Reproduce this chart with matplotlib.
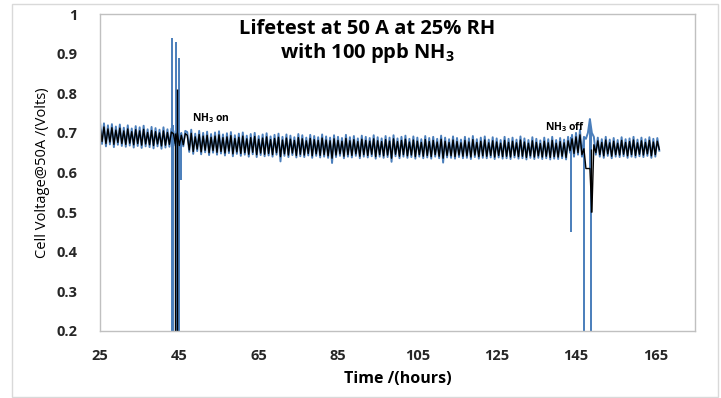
"""Lifetest cell voltage trace with NH3 exposure window."""

import numpy as np
import matplotlib
matplotlib.use("Agg")
import matplotlib.pyplot as plt
from matplotlib.patches import Rectangle

plt.rcParams["font.family"] = ["Open Sans", "DejaVu Sans"]
plt.rcParams["mathtext.fontset"] = "custom"
plt.rcParams["mathtext.rm"] = "Open Sans:bold"
plt.rcParams["mathtext.default"] = "rm"

# cell voltage in mV, sampled every 0.5 h starting at 25 h
T0 = 25.0
STEP = 0.5
blue_mv = [
    728, 672, 724, 666, 719, 671, 722, 664, 716, 670, 721, 667, 713, 665, 719, 668, 711, 663, 717, 667,
    714, 662, 718, 666, 709, 664, 715, 661, 712, 666, 708, 660, 714, 663, 709, 665, 711,
    705, 668, 708, 664, 700, 666, 705,
    702, 652, 708, 647, 698, 654, 705, 646, 700, 651, 703, 644, 697, 650, 701, 645, 704, 648, 696, 643,
    699, 649, 702, 641, 694, 647, 698, 642, 701, 645, 693, 640, 697, 646, 700, 639, 692, 644, 696, 641,
    699, 643, 691, 640, 695, 645, 698, 628, 690, 642, 696, 639, 693, 644, 689, 638, 697, 641, 694, 639,
    688, 643, 695, 637, 692, 642, 689, 638, 696, 640, 691, 637, 688, 624, 694, 639, 690, 642, 687, 636,
    695, 640, 689, 638, 692, 642, 686, 636, 693, 640, 690, 638, 687, 641, 694, 635, 689, 640, 686, 637,
    692, 639, 688, 627, 694, 641, 686, 636, 690, 640, 693, 637, 685, 639, 691, 635, 688, 640, 684, 636,
    692, 638, 687, 635, 690, 640, 685, 636, 693, 625, 688, 638, 684, 637, 691, 635, 687, 639, 683, 636,
    690, 637, 686, 634, 692, 639, 684, 635, 688, 637, 691, 636, 683, 638, 689, 634, 686, 638, 682, 635,
    690, 636, 685, 634, 688, 638, 683, 635, 691, 636, 686, 633, 682, 637, 689, 634, 685, 637, 681, 634,
    688, 636, 684, 633, 690, 635, 682, 634, 687, 636, 683, 633,
    690, 650, 695, 640, 700, 645, 708, 640, 690, 685, 700, 735, 700, 690, 645,
    688, 640, 684, 637, 690, 642, 683, 636, 687, 640, 682, 639, 689, 641, 684, 637,
    686, 640, 690, 638, 683, 641, 688, 639, 684, 642, 689, 637, 685, 640, 687, 655,
]
black_mv = [
    718, 678, 715, 673, 710, 677, 713, 671, 707, 676, 712, 673, 705, 671, 710, 674, 703, 670, 708, 673,
    705, 669, 709, 672, 701, 670, 706, 668, 703, 672, 700, 667, 705, 669, 701, 671, 702,
    698, 672, 700, 668, 694, 670, 698,
    694, 657, 699, 653, 690, 659, 696, 652, 692, 656, 694, 650, 689, 655, 692, 651, 695, 653, 688, 649,
    690, 654, 693, 647, 686, 652, 689, 648, 692, 650, 685, 646, 688, 651, 691, 645, 684, 649, 687, 646,
    690, 648, 683, 645, 686, 650, 689, 640, 682, 647, 687, 644, 684, 649, 681, 643, 688, 646, 685, 644,
    680, 648, 686, 642, 683, 647, 681, 643, 687, 645, 682, 642, 680, 636, 685, 644, 681, 647, 679, 641,
    686, 645, 680, 643, 683, 647, 678, 641, 684, 645, 681, 643, 679, 646, 685, 640, 680, 645, 678, 642,
    683, 644, 679, 636, 685, 646, 678, 641, 681, 645, 684, 642, 677, 644, 682, 640, 679, 645, 676, 641,
    683, 643, 678, 640, 681, 645, 677, 641, 684, 636, 679, 643, 676, 642, 682, 640, 678, 644, 675, 641,
    681, 642, 677, 639, 683, 644, 676, 640, 679, 642, 682, 641, 675, 643, 680, 639, 677, 643, 674, 640,
    681, 641, 676, 639, 679, 643, 675, 640, 682, 641, 677, 638, 674, 642, 680, 639, 676, 642, 673, 639,
    679, 641, 675, 638, 681, 640, 674, 639, 678, 641, 675, 638,
    680, 655, 685, 648, 690, 650, 695, 645, 660, 610, 610, 610, 500, 670, 650,
    680, 645, 676, 642, 682, 647, 675, 641, 679, 645, 674, 644, 681, 646, 676, 642,
    678, 645, 682, 643, 675, 646, 680, 644, 676, 647, 681, 642, 677, 645, 679, 658,
]
# short spikes (hours, low V, high V)
blue_spike_t = [43.2, 43.5, 44.2, 44.6, 45.0, 45.4, 143.8, 147.1, 148.6, 148.9]
blue_spike_lo = [0.15, 0.15, 0.15, 0.15, 0.15, 0.58, 0.45, 0.15, 0.61, 0.15]
blue_spike_hi = [0.94, 0.72, 0.93, 0.72, 0.89, 0.70, 0.69, 0.69, 0.735, 0.70]
black_spike_t = [43.8, 44.3, 148.9]
black_spike_lo = [0.15, 0.15, 0.50]
black_spike_hi = [0.70, 0.81, 0.66]

x_ticks = [25, 45, 65, 85, 105, 125, 145, 165]
y_ticks = [0.2, 0.3, 0.4, 0.5, 0.6, 0.7, 0.8, 0.9, 1.0]
y_tick_labels = ["0.2", "0.3", "0.4", "0.5", "0.6", "0.7", "0.8", "0.9", "1"]


def series(mv):
    v = np.array(mv) / 1000.0
    t = T0 + STEP * np.arange(len(v))
    return t, v


fig = plt.figure(figsize=(7.21, 3.98), dpi=100)
fig.patches.append(Rectangle((12 / 721, 1 / 398), 706 / 721, 393 / 398,
                             transform=fig.transFigure, fill=False,
                             edgecolor="#d9d9d9", linewidth=1.0))
ax = fig.add_axes([100 / 721, 1 - 331 / 398, 595 / 721, 317 / 398])

BLUE = "#4a7ebb"
t, v = series(blue_mv)
ax.plot(t, v, color=BLUE, linewidth=1.4)
ax.vlines(blue_spike_t, blue_spike_lo, blue_spike_hi, color=BLUE, linewidth=1.4)
t, v = series(black_mv)
ax.plot(t, v, color="black", linewidth=1.0)
ax.vlines(black_spike_t, black_spike_lo, black_spike_hi, color="black", linewidth=1.0)

ax.set_xlim(25, 175)
ax.set_ylim(0.2, 1.0)
ax.set_xticks(x_ticks)
ax.set_xticklabels([str(x) for x in x_ticks])
ax.set_yticks(y_ticks)
ax.set_yticklabels(y_tick_labels)
ax.tick_params(length=0, labelsize=10.5, colors="#262626")
ax.tick_params(axis="y", pad=16)
ax.tick_params(axis="x", pad=13)
for lab in ax.get_xticklabels() + ax.get_yticklabels():
    lab.set_fontweight("bold")
for s in ax.spines.values():
    s.set_color("#c0c0c0")
    s.set_linewidth(1.0)

ax.set_xlabel("Time /(hours)", fontsize=11.5, fontweight="bold", labelpad=6)
ax.set_ylabel("Cell Voltage@50A /(Volts)", fontsize=10.5, labelpad=5)

ax.text(0.449, 0.985, "Lifetest at 50 A at 25% RH\nwith 100 ppb NH$_3$",
        transform=ax.transAxes, ha="center", va="top", fontsize=14.5,
        fontweight="bold", linespacing=1.15)
ax.text(48.3, 0.737, "NH$_3$ on", fontsize=7.5, fontweight="bold", va="center")
ax.text(137.3, 0.715, "NH$_3$ off", fontsize=7.5, fontweight="bold", va="center")

fig.savefig("out.png", dpi=100)
